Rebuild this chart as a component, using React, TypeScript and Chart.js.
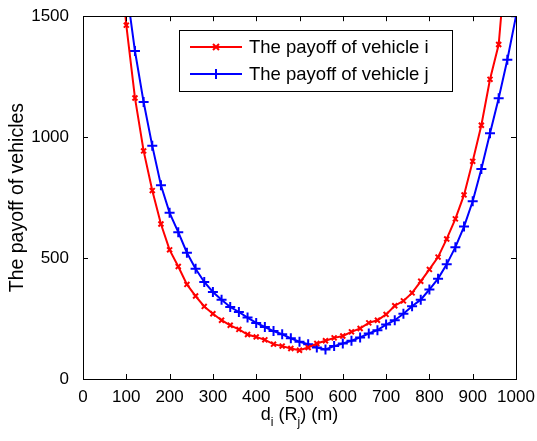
import React, { useEffect, useRef } from "react";
import { Chart, registerables } from "chart.js";

Chart.register(...registerables);

const xTicks = [0, 100, 200, 300, 400, 500, 600, 700, 800, 900, 1000];
const yTicks = [0, 500, 1000, 1500];

const redX = [80, 100, 120, 140, 160, 180, 200, 220, 240, 260, 280, 300, 320, 340, 360, 380, 400, 420, 440, 460, 480, 500, 520, 540, 560, 580, 600, 620, 640, 660, 680, 700, 720, 740, 760, 780, 800, 820, 840, 860, 880, 900, 920, 940, 960, 980];
const redY = [1850, 1463, 1162, 943, 779, 641, 534, 465, 391, 343, 300, 270, 243, 222, 205, 184, 174, 162, 144, 136, 126, 119, 130, 147, 158, 170, 178, 195, 209, 232, 243, 267, 303, 323, 356, 404, 453, 504, 579, 662, 761, 900, 1049, 1239, 1383, 1800];

const blueX = [100, 120, 140, 160, 180, 200, 220, 240, 260, 280, 300, 320, 340, 360, 380, 400, 420, 440, 460, 480, 500, 520, 540, 560, 580, 600, 620, 640, 660, 680, 700, 720, 740, 760, 780, 800, 820, 840, 860, 880, 900, 920, 940, 960, 980, 1000];
const blueY = [1620, 1356, 1145, 964, 801, 687, 607, 522, 456, 401, 360, 328, 298, 277, 254, 232, 215, 198, 185, 168, 154, 144, 130, 122, 136, 147, 158, 172, 188, 202, 225, 243, 270, 301, 328, 370, 415, 474, 545, 630, 735, 868, 1016, 1161, 1320, 1500];

const seriesLabels = ["The payoff of vehicle i", "The payoff of vehicle j"];
const yTitle = "The payoff of vehicles";

const FONT = "'Liberation Sans', Arial, sans-serif";
const RED = "#ff0000";
const BLUE = "#0000ff";

function drawX(ctx: CanvasRenderingContext2D, x: number, y: number, r: number, color: string) {
  ctx.save();
  ctx.strokeStyle = color;
  ctx.lineWidth = 2;
  ctx.beginPath();
  ctx.moveTo(x - r, y - r);
  ctx.lineTo(x + r, y + r);
  ctx.moveTo(x - r, y + r);
  ctx.lineTo(x + r, y - r);
  ctx.stroke();
  ctx.restore();
}
function drawPlus(ctx: CanvasRenderingContext2D, x: number, y: number, r: number, color: string) {
  ctx.save();
  ctx.strokeStyle = color;
  ctx.lineWidth = 2;
  ctx.beginPath();
  ctx.moveTo(x - r, y);
  ctx.lineTo(x + r, y);
  ctx.moveTo(x, y - r);
  ctx.lineTo(x, y + r);
  ctx.stroke();
  ctx.restore();
}

const decorPlugin = {
  id: "decor",
  afterDraw(chart: any) {
    const ctx: CanvasRenderingContext2D = chart.ctx;
    const { left, right, top, bottom } = chart.chartArea;
    const xs = chart.scales.x;
    const ys = chart.scales.y;
    ctx.save();
    ctx.strokeStyle = "#000";
    ctx.lineWidth = 1;
    ctx.strokeRect(Math.round(left) + 0.5, Math.round(top) + 0.5, Math.round(right - left), Math.round(bottom - top));
    const tl = 5;
    ctx.beginPath();
    xTicks.forEach((v) => {
      const px = Math.round(xs.getPixelForValue(v)) + 0.5;
      ctx.moveTo(px, bottom);
      ctx.lineTo(px, bottom - tl);
      ctx.moveTo(px, top);
      ctx.lineTo(px, top + tl);
    });
    yTicks.forEach((v) => {
      const py = Math.round(ys.getPixelForValue(v)) + 0.5;
      ctx.moveTo(left, py);
      ctx.lineTo(left + tl, py);
      ctx.moveTo(right, py);
      ctx.lineTo(right - tl, py);
    });
    ctx.stroke();

    // y title
    ctx.fillStyle = "#000";
    ctx.font = `19.5px ${FONT}`;
    ctx.textAlign = "center";
    ctx.textBaseline = "middle";
    ctx.save();
    ctx.translate(18, (top + bottom) / 2);
    ctx.rotate(-Math.PI / 2);
    ctx.fillText(yTitle, 0, 0);
    ctx.restore();

    // x title with subscripts
    const parts: [string, boolean][] = [["d", false], ["i", true], [" (R", false], ["j", true], [") (m)", false]];
    const norm = `18px ${FONT}`;
    const sub = `12px ${FONT}`;
    let total = 0;
    parts.forEach(([t, s]) => {
      ctx.font = s ? sub : norm;
      total += ctx.measureText(t).width;
    });
    let cx = (left + right) / 2 - total / 2;
    const base = 420;
    ctx.textAlign = "left";
    ctx.textBaseline = "alphabetic";
    parts.forEach(([t, s]) => {
      ctx.font = s ? sub : norm;
      ctx.fillText(t, cx, s ? base + 6 : base);
      cx += ctx.measureText(t).width;
    });

    // legend
    const lx = 179.5, ly = 30.5, lw = 273, lh = 61;
    ctx.fillStyle = "#fff";
    ctx.fillRect(lx, ly, lw, lh);
    ctx.strokeStyle = "#000";
    ctx.lineWidth = 1;
    ctx.strokeRect(lx, ly, lw, lh);
    const rows = [
      { y: 47, color: RED, label: seriesLabels[0], mk: "x" },
      { y: 74, color: BLUE, label: seriesLabels[1], mk: "+" },
    ];
    rows.forEach((r) => {
      ctx.strokeStyle = r.color;
      ctx.lineWidth = 2;
      ctx.beginPath();
      ctx.moveTo(190, r.y);
      ctx.lineTo(242, r.y);
      ctx.stroke();
      if (r.mk === "x") drawX(ctx, 216, r.y, 3, r.color);
      else drawPlus(ctx, 216, r.y, 5, r.color);
      ctx.fillStyle = "#000";
      ctx.font = `18.5px ${FONT}`;
      ctx.textAlign = "left";
      ctx.textBaseline = "middle";
      ctx.fillText(r.label, 249, r.y + 1);
    });
    ctx.restore();
  },
};

export default function App() {
  const ref = useRef<HTMLCanvasElement>(null);
  useEffect(() => {
    document.body.style.margin = "0";
    const canvas = ref.current!;
    const chart = new Chart(canvas, {
      type: "line",
      data: {
        datasets: [
          {
            label: seriesLabels[0],
            data: redX.map((x, i) => ({ x, y: redY[i] })),
            borderColor: RED,
            backgroundColor: RED,
            borderWidth: 2,
            pointStyle: "crossRot",
            pointRadius: 3.5,
            pointBorderWidth: 2,
            pointBorderColor: RED,
            tension: 0,
          },
          {
            label: seriesLabels[1],
            data: blueX.map((x, i) => ({ x, y: blueY[i] })),
            borderColor: BLUE,
            backgroundColor: BLUE,
            borderWidth: 2,
            pointStyle: "cross",
            pointRadius: 5,
            pointBorderWidth: 2,
            pointBorderColor: BLUE,
            tension: 0,
          },
        ],
      },
      options: {
        animation: false,
        responsive: false,
        devicePixelRatio: 1,
        layout: { padding: { top: 15, right: 21, left: 0, bottom: 0 } },
        plugins: { legend: { display: false }, tooltip: { enabled: false } },
        scales: {
          x: {
            type: "linear",
            min: 0,
            max: 1000,
            afterBuildTicks: (s: any) => {
              s.ticks = xTicks.map((v) => ({ value: v }));
            },
            afterFit: (s: any) => {
              s.height = 62;
            },
            grid: { display: false },
            border: { display: false },
            ticks: {
              color: "#000",
              font: { family: FONT, size: 17 },
              padding: 0,
              maxRotation: 0,
              autoSkip: false,
              callback: (v: any) => String(v),
            },
          },
          y: {
            type: "linear",
            min: 0,
            max: 1500,
            afterBuildTicks: (s: any) => {
              s.ticks = yTicks.map((v) => ({ value: v }));
            },
            afterFit: (s: any) => {
              s.width = 83;
            },
            grid: { display: false },
            border: { display: false },
            ticks: {
              color: "#000",
              font: { family: FONT, size: 17 },
              padding: 6,
              callback: (v: any) => String(v),
            },
          },
        },
      },
      plugins: [decorPlugin],
    } as any);
    return () => chart.destroy();
  }, []);
  return <canvas ref={ref} width={537} height={441} style={{ display: "block", width: 537, height: 441 }} />;
}
